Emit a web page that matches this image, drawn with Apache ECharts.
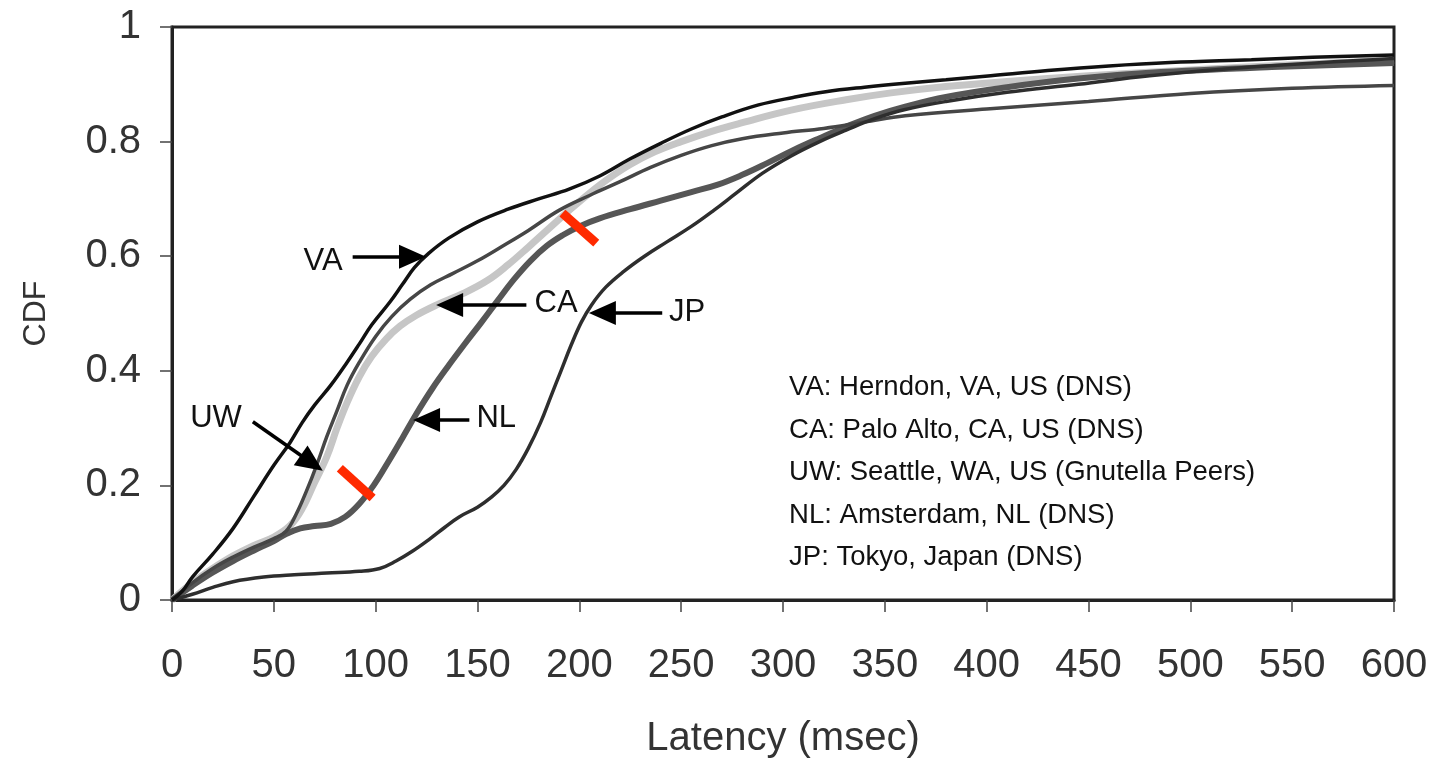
<!DOCTYPE html>
<html>
<head>
<meta charset="UTF-8">
<title>Latency CDF</title>
<script src="https://cdn.jsdelivr.net/npm/echarts@6/dist/echarts.min.js"></script>
<style>
  html, body { margin: 0; padding: 0; background: #fff; }
  #main { width: 1433px; height: 760px; }
</style>
</head>
<body>
<div id="main"></div>
<script>
// latency (msec), CDF pairs
var vaData = [[0,0],[5,0.015],[10,0.04],[20,0.08],[30,0.125],[40,0.18],[50,0.235],[58,0.275],[64,0.31],[70,0.34],[78,0.375],[86,0.415],[92,0.447],[98,0.48],[107,0.52],[113,0.55],[119,0.58],[126,0.605],[136,0.632],[150,0.66],[165,0.682],[180,0.70],[195,0.717],[210,0.74],[225,0.77],[240,0.797],[255,0.822],[270,0.843],[288,0.864],[305,0.877],[321,0.887],[340,0.895],[360,0.902],[380,0.908],[402,0.915],[430,0.924],[460,0.932],[490,0.938],[530,0.943],[560,0.947],[600,0.951]];
var caData = [[0,0],[10,0.03],[20,0.055],[30,0.077],[40,0.095],[50,0.11],[58,0.13],[64,0.16],[70,0.205],[76,0.25],[81,0.30],[86,0.345],[92,0.39],[98,0.425],[105,0.455],[112,0.478],[120,0.497],[130,0.515],[143,0.535],[155,0.558],[165,0.585],[175,0.616],[185,0.648],[195,0.68],[205,0.71],[215,0.737],[225,0.76],[237,0.782],[250,0.80],[265,0.818],[280,0.833],[304,0.855],[331,0.873],[353,0.885],[380,0.896],[410,0.905],[450,0.915],[500,0.925],[550,0.934],[600,0.942]];
var uwData = [[0,0],[10,0.03],[20,0.055],[30,0.075],[40,0.092],[50,0.107],[56,0.12],[61,0.15],[66,0.19],[71,0.235],[76,0.285],[81,0.33],[86,0.375],[92,0.415],[100,0.46],[108,0.495],[117,0.525],[127,0.55],[138,0.57],[150,0.592],[162,0.617],[175,0.645],[190,0.68],[205,0.706],[220,0.73],[235,0.755],[250,0.776],[265,0.793],[280,0.805],[300,0.815],[320,0.823],[340,0.834],[360,0.845],[400,0.857],[450,0.87],[500,0.884],[550,0.893],[600,0.898]];
var nlData = [[0,0],[10,0.025],[20,0.048],[30,0.068],[40,0.086],[50,0.103],[56,0.115],[63,0.125],[70,0.129],[78,0.133],[85,0.145],[92,0.168],[99,0.2],[106,0.24],[113,0.282],[120,0.325],[128,0.37],[136,0.41],[144,0.448],[152,0.485],[160,0.523],[168,0.56],[176,0.592],[184,0.618],[192,0.637],[200,0.652],[210,0.666],[225,0.682],[240,0.697],[255,0.712],[268,0.725],[280,0.742],[292,0.762],[305,0.785],[318,0.806],[331,0.826],[345,0.845],[360,0.861],[380,0.878],[410,0.895],[445,0.91],[480,0.92],[540,0.93],[600,0.937]];
var jpData = [[0,0],[10,0.01],[20,0.022],[30,0.032],[45,0.04],[60,0.044],[76,0.047],[92,0.05],[102,0.055],[110,0.068],[118,0.085],[126,0.105],[134,0.127],[141,0.145],[150,0.162],[157,0.18],[163,0.2],[169,0.228],[175,0.265],[181,0.31],[186,0.355],[191,0.40],[196,0.445],[201,0.485],[206,0.515],[213,0.546],[222,0.574],[232,0.6],[243,0.625],[255,0.652],[266,0.68],[277,0.71],[290,0.745],[304,0.775],[318,0.8],[331,0.82],[345,0.84],[360,0.856],[380,0.87],[410,0.886],[445,0.90],[480,0.915],[530,0.93],[600,0.945]];

// red highlight strokes
var redMarkA = [[191.7,0.675],[208.3,0.623]];
var redMarkB = [[82.4,0.230],[98.5,0.178]];

// arrows: [from, to], and curve labels
var arrowLines = [
  [[88.7,0.599],[118.1,0.599]],
  [[174,0.515],[136.3,0.515]],
  [[240.7,0.501],[211.3,0.501]],
  [[146,0.314],[125,0.314]],
  [[39.7,0.311],[68.6,0.239]]
];
var curveLabels = [
  ['VA', 83.8, 0.590, 'right'],
  ['CA', 178, 0.518, 'left'],
  ['JP', 244, 0.501, 'left'],
  ['NL', 149.5, 0.316, 'left'],
  ['UW', 34.3, 0.316, 'right']
];
var legendLines = [
  'VA: Herndon, VA, US (DNS)',
  'CA: Palo Alto, CA, US (DNS)',
  'UW: Seattle, WA, US (Gnutella Peers)',
  'NL: Amsterdam, NL (DNS)',
  'JP: Tokyo, Japan (DNS)'
];

var font = 'Liberation Sans, Arial, sans-serif';
var chart = echarts.init(document.getElementById('main'));

function curve(name, data, color, width) {
  return {
    name: name, type: 'line', data: data,
    smooth: 0.4,
    showSymbol: false, silent: true, z: 2,
    lineStyle: { color: color, width: width }
  };
}
function redMark(data) {
  return {
    type: 'line', data: data, showSymbol: false, silent: true, z: 5,
    lineStyle: { color: '#ff2a00', width: 9, cap: 'butt' }
  };
}

chart.setOption({
  animation: false,
  backgroundColor: '#fff',
  grid: {
    left: 172, top: 27, right: 39, bottom: 160,
    containLabel: false, outerBoundsMode: 'none',
    show: true, borderColor: '#222', borderWidth: 3
  },
  xAxis: {
    type: 'value', min: 0, max: 600, interval: 50,
    name: 'Latency (msec)', nameLocation: 'middle', nameGap: 119,
    nameTextStyle: { fontFamily: font, fontSize: 40, color: '#333' },
    axisLine: { show: true, lineStyle: { color: '#222', width: 3 } },
    axisTick: { show: true, length: 12, lineStyle: { color: '#444', width: 1.5 } },
    axisLabel: { fontFamily: font, fontSize: 40, color: '#333', margin: 46 },
    splitLine: { show: false }
  },
  yAxis: {
    type: 'value', min: 0, max: 1, interval: 0.2,
    name: 'CDF', nameLocation: 'middle', nameGap: 120, nameRotate: 90,
    nameTextStyle: { fontFamily: font, fontSize: 32, color: '#333' },
    axisLine: { show: true, lineStyle: { color: '#222', width: 3 } },
    axisTick: { show: true, length: 12, lineStyle: { color: '#444', width: 1.5 } },
    axisLabel: { fontFamily: font, fontSize: 40, color: '#333', margin: 31 },
    splitLine: { show: false }
  },
  series: [
    curve('CA', caData, '#c6c6c6', 7),
    curve('NL', nlData, '#565656', 6),
    curve('UW', uwData, '#464646', 3.5),
    curve('JP', jpData, '#2e2e2e', 3.5),
    curve('VA', vaData, '#111111', 3.5),
    redMark(redMarkA),
    redMark(redMarkB),
    {
      type: 'line', data: [], silent: true,
      markLine: {
        silent: true, animation: false,
        symbol: ['none', 'triangle'], symbolSize: [24, 27],
        label: { show: false },
        lineStyle: { color: '#000', width: 3.5, type: 'solid' },
        data: arrowLines.map(function (a) {
          return [{ coord: a[0] }, { coord: a[1] }];
        })
      }
    }
  ]
});

// curve labels and the location key, placed through the axes
var texts = curveLabels.map(function (c) {
  var p = chart.convertToPixel({ gridIndex: 0 }, [c[1], c[2]]);
  return {
    type: 'text', x: p[0], y: p[1], z: 10,
    style: { text: c[0], fontFamily: font, fontSize: 31, fill: '#111',
             align: c[3], verticalAlign: 'middle' }
  };
});
var keyPos = chart.convertToPixel({ gridIndex: 0 }, [303, 0.408]);
texts.push({
  type: 'text', x: keyPos[0], y: keyPos[1], z: 10,
  style: { text: legendLines.join('\n'), fontFamily: font, fontSize: 27.5,
           lineHeight: 42.5, fill: '#111', align: 'left', verticalAlign: 'top' }
});
chart.setOption({ graphic: texts });
</script>
</body>
</html>
